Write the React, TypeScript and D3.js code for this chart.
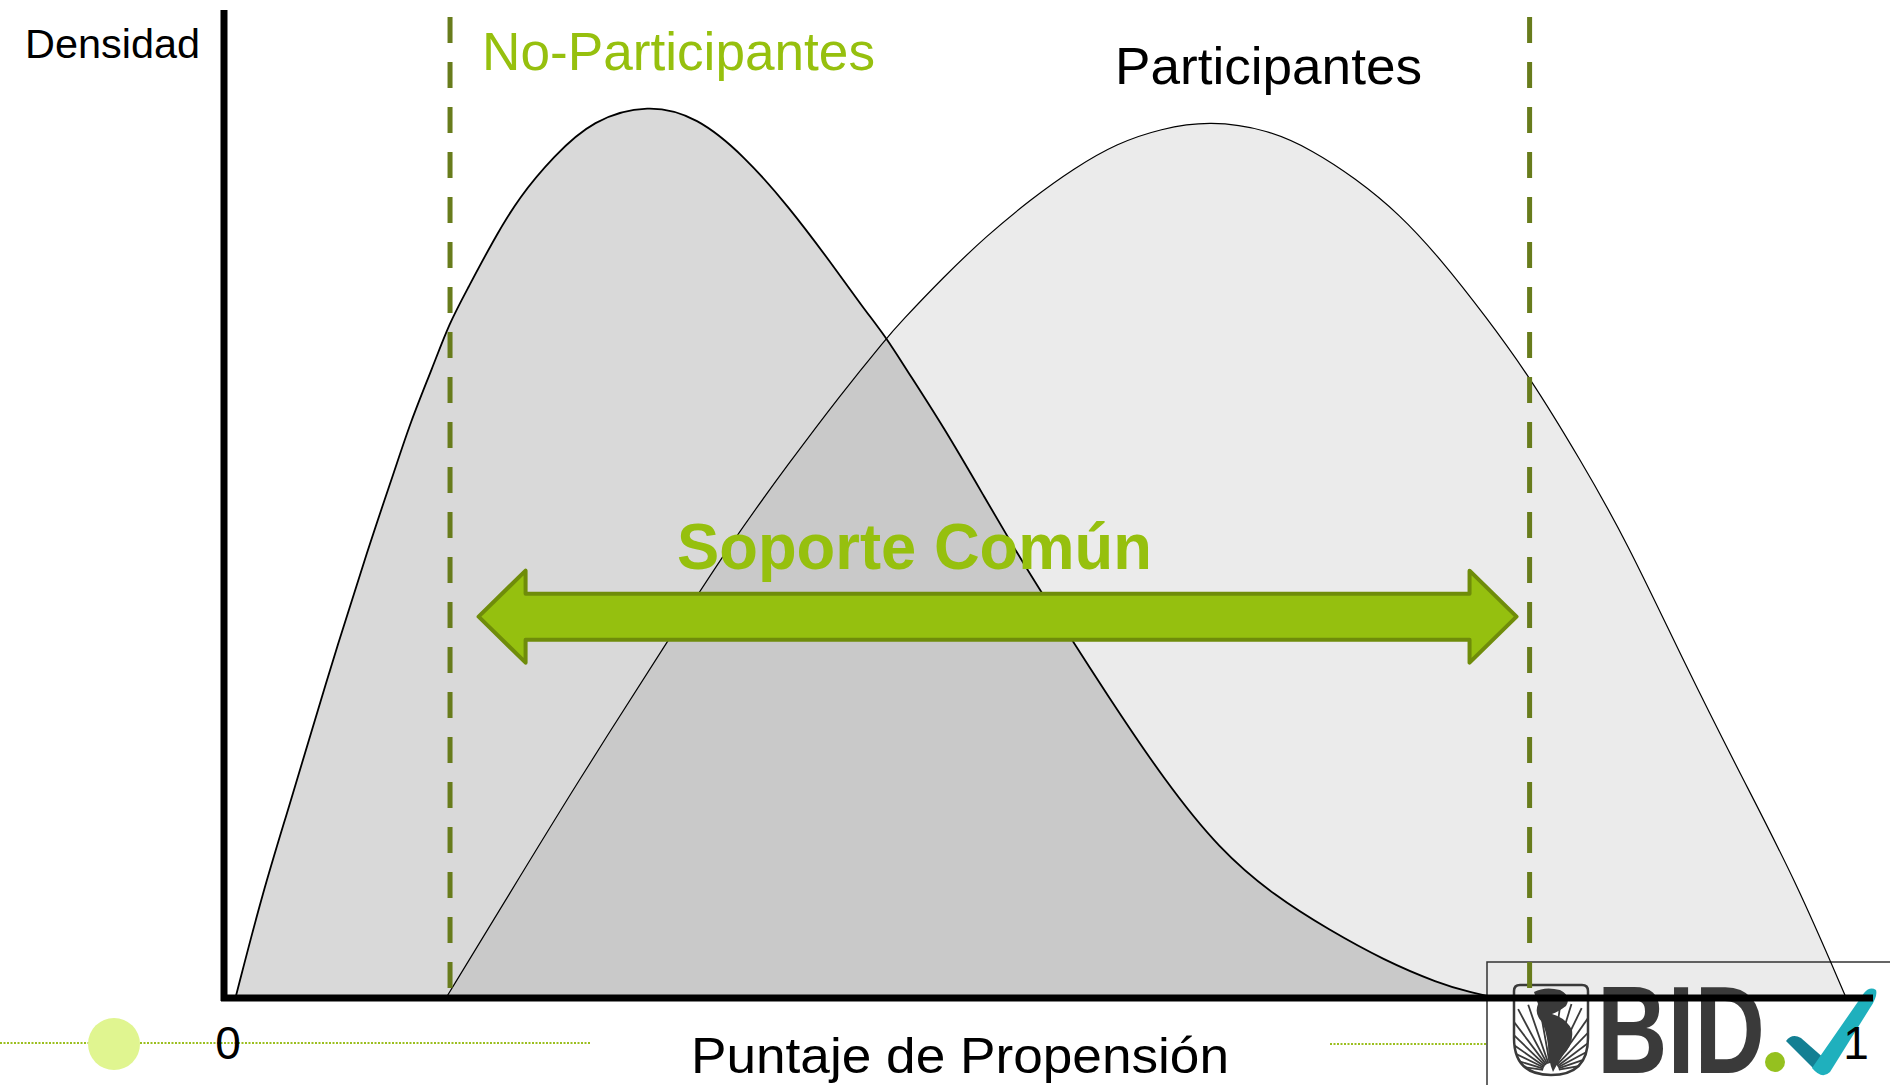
import React from 'react';
import * as d3 from 'd3';

// propensity score (x) and density (y)
const noPartScore = [0.007, 0.024, 0.040, 0.061, 0.090, 0.104, 0.114, 0.128, 0.138, 0.149, 0.165, 0.181, 0.202, 0.226, 0.260, 0.290, 0.319, 0.346, 0.372, 0.391, 0.406, 0.417, 0.441, 0.467, 0.485, 0.501, 0.543, 0.576, 0.610, 0.644, 0.677, 0.711, 0.744, 0.765, 0.780];
const noPartDensity = [0, 0.109, 0.194, 0.312, 0.464, 0.531, 0.582, 0.639, 0.683, 0.717, 0.767, 0.811, 0.852, 0.889, 0.905, 0.892, 0.852, 0.801, 0.744, 0.700, 0.668, 0.639, 0.578, 0.504, 0.453, 0.410, 0.302, 0.221, 0.150, 0.103, 0.069, 0.038, 0.015, 0.005, 0];

const partScore = [0.136, 0.170, 0.216, 0.271, 0.312, 0.346, 0.377, 0.406, 0.414, 0.441, 0.467, 0.494, 0.521, 0.547, 0.574, 0.604, 0.640, 0.667, 0.693, 0.720, 0.746, 0.773, 0.800, 0.831, 0.859, 0.896, 0.929, 0.963, 0.994];
const partDensity = [0, 0.092, 0.217, 0.359, 0.464, 0.541, 0.609, 0.668, 0.683, 0.730, 0.771, 0.808, 0.840, 0.865, 0.880, 0.888, 0.879, 0.858, 0.830, 0.794, 0.747, 0.690, 0.629, 0.545, 0.464, 0.335, 0.227, 0.119, 0];

const soporteComun = [0.1385, 0.800]; // dashed bounds
const arrowRange = [0.156, 0.792];
const arrowLevel = 0.386;
const xTicks = [0, 1];

const W = 1890;
const H = 1085;
const FONT = 'Liberation Sans, Arial, sans-serif';
const GREEN = '#96c00e';
const OLIVE = '#687c1c';

export default function App() {
  const x = d3.scaleLinear().domain([0, 1]).range([224, 1856]);
  const y = d3.scaleLinear().domain([0, 1]).range([998, 10]);

  const np = noPartScore.map((s, i) => [s, noPartDensity[i]] as [number, number]);
  const p = partScore.map((s, i) => [s, partDensity[i]] as [number, number]);

  const area = d3.area<[number, number]>()
    .x((d) => x(d[0]))
    .y0(y(0))
    .y1((d) => y(d[1]))
    .curve(d3.curveBasis);
  const line = d3.line<[number, number]>()
    .x((d) => x(d[0]))
    .y((d) => y(d[1]))
    .curve(d3.curveBasis);

  // double arrow
  const ax0 = x(arrowRange[0]);
  const ax1 = x(arrowRange[1]);
  const ay = y(arrowLevel);
  const sh = 23, hh = 46, hl = 47;
  const arrowPath = `M${ax0},${ay} L${ax0 + hl},${ay - hh} L${ax0 + hl},${ay - sh} L${ax1 - hl},${ay - sh} L${ax1 - hl},${ay - hh} L${ax1},${ay} L${ax1 - hl},${ay + hh} L${ax1 - hl},${ay + sh} L${ax0 + hl},${ay + sh} L${ax0 + hl},${ay + hh} Z`;

  // logo rays
  const rayCx = 1551, rayCy = 1071;
  const rays = d3.range(-172, -7, 9).map((a) => {
    const r = (a * Math.PI) / 180;
    return [rayCx + Math.cos(r) * 8, rayCy + Math.sin(r) * 8, rayCx + Math.cos(r) * 70, rayCy + Math.sin(r) * 70];
  });
  const shield = 'M1514,991 Q1514,985 1520,985 L1582,985 Q1588,985 1588,991 L1588,1038 Q1588,1075 1551,1075 Q1514,1075 1514,1038 Z';

  return (
    <svg width={W} height={H} style={{ position: 'absolute', left: 0, top: 0, background: '#fff' }} fontFamily={FONT}>
      <defs>
        <clipPath id="shieldClip"><path d={shield} /></clipPath>
      </defs>

      {/* fills */}
      <path d={area(p) || ''} fill="#ebebeb" />
      <path d={area(np) || ''} fill="#414141" fillOpacity={0.2} />

      {/* bottom decoration */}
      <line x1={0} x2={590} y1={1043} y2={1043} stroke="#9bbf1f" strokeWidth={2} strokeDasharray="2 1.5" />
      <line x1={1330} x2={1487} y1={1044} y2={1044} stroke="#9bbf1f" strokeWidth={2} strokeDasharray="2 1.5" />
      <circle cx={114} cy={1044} r={26} fill="#e0f590" />

      {/* logo */}
      <rect x={1487} y={962} width={420} height={140} fill="none" stroke="#333" strokeWidth={1.5} />
      <g clipPath="url(#shieldClip)">
        {rays.map((r, i) => (
          <line key={i} x1={r[0]} y1={r[1]} x2={r[2]} y2={r[3]} stroke="#3a3a3a" strokeWidth={1.8} />
        ))}
        <path d="M1534,992 Q1545,986 1560,990 Q1572,996 1566,1006 Q1558,1012 1552,1014 Q1566,1018 1572,1030 Q1574,1045 1562,1056 Q1556,1066 1553,1072 Q1548,1060 1548,1045 Q1546,1030 1542,1022 Q1534,1014 1538,1004 Z" fill="#3a3a3a" />
      </g>
      <path d={shield} fill="none" stroke="#3a3a3a" strokeWidth={2.5} />
      <text x={1597} y={1073} fontSize={125} fontWeight={900} fill="#3a3a3a" textLength={168} lengthAdjust="spacingAndGlyphs">BID</text>
      <circle cx={1775} cy={1062} r={10} fill="#95c11f" />
      <path d="M1786,1041 Q1792,1033 1801,1038 L1826,1060 L1818,1073 Z" fill="#137f93" />
      <path d="M1812,1068 L1864,993 Q1870,986 1876,990 Q1878,996 1870,1008 L1830,1072 Q1822,1080 1812,1068 Z" fill="#1fb0bd" />

      {/* curve outlines */}
      <path d={line(p) || ''} fill="none" stroke="#000" strokeWidth={1.2} />
      <path d={line(np) || ''} fill="none" stroke="#000" strokeWidth={1.8} />

      {/* common support bounds */}
      {soporteComun.map((s, i) => (
        <line key={i} x1={x(s)} x2={x(s)} y1={17} y2={998} stroke={OLIVE} strokeWidth={5} strokeDasharray="26 19" />
      ))}

      {/* axes */}
      <line x1={x(0)} x2={x(0)} y1={10} y2={1001} stroke="#000" strokeWidth={7} />
      <line x1={x(0) - 3} x2={1873} y1={y(0)} y2={y(0)} stroke="#000" strokeWidth={7} />
      {xTicks.map((t) => (
        <text key={t} x={x(t) + (t === 0 ? 4 : 0)} y={1059} fontSize={46} textAnchor="middle" fill="#000">{t}</text>
      ))}
      <text x={691} y={1073} fontSize={50} textLength={538} lengthAdjust="spacingAndGlyphs" fill="#000">Puntaje de Propensión</text>
      <text x={25} y={58} fontSize={40} textLength={175} lengthAdjust="spacingAndGlyphs" fill="#000">Densidad</text>

      {/* labels */}
      <text x={482} y={70} fontSize={53} textLength={393} lengthAdjust="spacingAndGlyphs" fill={GREEN}>No-Participantes</text>
      <text x={1115} y={84} fontSize={52} textLength={307} lengthAdjust="spacingAndGlyphs" fill="#000">Participantes</text>

      {/* arrow */}
      <path d={arrowPath} fill="#95c00f" stroke="#6f8c0a" strokeWidth={4} strokeLinejoin="round" />
      <text x={677} y={569} fontSize={64} fontWeight="bold" textLength={475} lengthAdjust="spacingAndGlyphs" fill={GREEN}>Soporte Común</text>
    </svg>
  );
}
